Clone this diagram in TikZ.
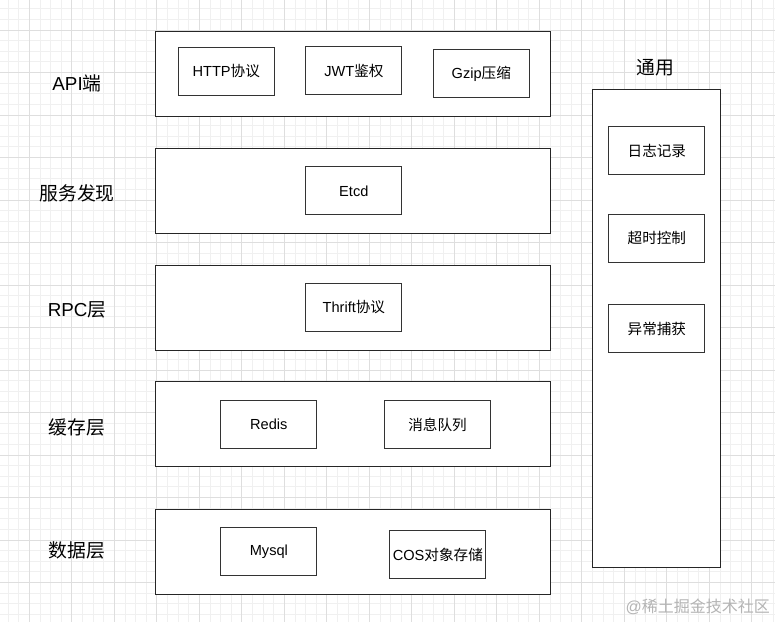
\documentclass[tikz,border=0pt]{standalone}
\usepackage{fontspec}
\setmainfont{Liberation Sans}
\newfontfamily\cjk{Noto Sans CJK SC}
\definecolor{gridminor}{HTML}{F0F0F0}
\definecolor{gridmajor}{HTML}{DEDEDE}
\definecolor{wmark}{HTML}{B4B4B4}
\tikzset{
  layerbox/.style={draw=black!85, line width=1.1pt, fill=white, inner sep=0pt, anchor=north west},
  itembox/.style={draw=black!80, line width=1.1pt, fill=white, inner sep=0pt, anchor=north west,
    font=\fontsize{14.6}{16}\selectfont},
  sidelabel/.style={inner sep=0pt, font=\fontsize{18.8}{21}\selectfont},
}
\begin{document}
\begin{tikzpicture}[x=1pt,y=-1pt]
\useasboundingbox (0,0) rectangle (775,622);
\fill[white] (0,0) rectangle (775,622);
% grid
\foreach \i in {0,...,73} {
  \draw[gridminor, line width=0.8pt] ({8.05+\i*10.625},0) -- ({8.05+\i*10.625},622);
}
\foreach \i in {0,...,58} {
  \draw[gridminor, line width=0.8pt] (0,{8.75+\i*10.625}) -- (775,{8.75+\i*10.625});
}
\foreach \i in {0,...,18} {
  \draw[gridmajor, line width=0.8pt] ({29.3+\i*42.5},0) -- ({29.3+\i*42.5},622);
}
\foreach \i in {0,...,14} {
  \draw[gridmajor, line width=0.8pt] (0,{30+\i*42.5}) -- (775,{30+\i*42.5});
}
% layers
\node[layerbox, minimum width=395pt, minimum height=85pt] (api) at (155.3,30.7) {};
\node[layerbox, minimum width=395pt, minimum height=85pt] (disc) at (155.3,147.7) {};
\node[layerbox, minimum width=395pt, minimum height=85pt] (rpc) at (155.3,264.5) {};
\node[layerbox, minimum width=395pt, minimum height=85pt] (cache) at (155.3,381.3) {};
\node[layerbox, minimum width=395pt, minimum height=85pt] (data) at (155.3,508.5) {};
% general container
\node[layerbox, minimum width=128pt, minimum height=478pt] (gen) at (592,89) {};
% left labels
\node[sidelabel] (lapi) at (77,83) {API{\cjk 端}};
\node[sidelabel] (ldisc) at (77,193) {\cjk 服务发现};
\node[sidelabel] (lrpc) at (77,310) {RPC{\cjk 层}};
\node[sidelabel] (lcache) at (77,427) {\cjk 缓存层};
\node[sidelabel] (ldata) at (77,550) {\cjk 数据层};
\node[sidelabel] (lgen) at (655.5,68) {\cjk 通用};
% items
\node[itembox, minimum width=96pt, minimum height=48pt] (http) at (177.7,46.7) {HTTP{\cjk 协议}};
\node[itembox, minimum width=96pt, minimum height=48pt] (jwt) at (305.3,46.3) {JWT{\cjk 鉴权}};
\node[itembox, minimum width=95.5pt, minimum height=48pt] (gzip) at (433,49.3) {Gzip{\cjk 压缩}};
\node[itembox, minimum width=96pt, minimum height=48pt] (etcd) at (305.3,166.3) {Etcd};
\node[itembox, minimum width=96pt, minimum height=47.5pt] (thrift) at (305.3,283) {Thrift{\cjk 协议}};
\node[itembox, minimum width=96pt, minimum height=48pt] (redis) at (220.3,400) {Redis};
\node[itembox, minimum width=106.6pt, minimum height=48pt] (mq) at (383.7,400) {\cjk 消息队列};
\node[itembox, minimum width=96pt, minimum height=48pt] (mysql) at (220.3,527.3) {Mysql};
\node[itembox, minimum width=96pt, minimum height=48.3pt] (cos) at (389.3,530) {COS{\cjk 对象存储}};
\node[itembox, minimum width=96pt, minimum height=48pt] (log) at (608.3,126) {\cjk 日志记录};
\node[itembox, minimum width=96pt, minimum height=48.3pt] (timeout) at (608.3,213.7) {\cjk 超时控制};
\node[itembox, minimum width=96pt, minimum height=48pt] (exc) at (608.3,304) {\cjk 异常捕获};
% watermark
\node[inner sep=0pt, anchor=east, text=wmark, font=\fontsize{16}{18}\selectfont] (wm) at (770,607) {@{\cjk 稀土掘金技术社区}};
\end{tikzpicture}
\end{document}
